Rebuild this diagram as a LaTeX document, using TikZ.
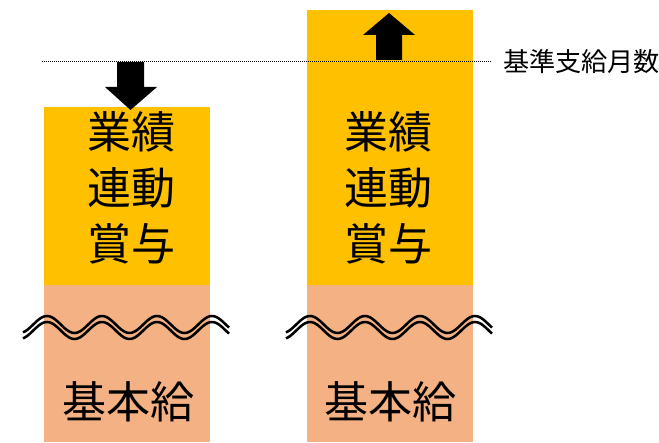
\documentclass[tikz,border=0pt]{standalone}
\usepackage{fontspec}
\newfontfamily\cjk{Noto Sans CJK JP}
\definecolor{gold}{HTML}{FFC000}
\definecolor{salmon}{HTML}{F4B183}
\tikzset{
  block/.style={draw=none, inner sep=0, outer sep=0, anchor=north west, minimum width=124.5pt},
  bonusbox/.style={block, fill=gold},
  basebox/.style={block, fill=salmon, minimum height=117.75pt},
  bigtext/.style={font=\cjk\fontsize{33}{42}\selectfont, align=center, inner sep=0},
  labeltext/.style={font=\cjk\fontsize{19.6}{19.6}\selectfont, inner sep=0, anchor=west},
  waveline/.style={line width=1.9pt, black},
  dotline/.style={line width=0.75pt, dash pattern=on 0.75pt off 0.75pt},
  arrowshape/.style={fill=black}
}
\begin{document}
\begin{tikzpicture}[x=0.75pt,y=-0.75pt]
\useasboundingbox (0,0) rectangle (659,442);
% boxes
\node[bonusbox, minimum height=133.5pt] (bonusL) at (44,107) {};
\node[basebox] (baseL) at (44,285) {};
\node[bonusbox, minimum height=206.25pt] (bonusR) at (307,10) {};
\node[basebox] (baseR) at (307,285) {};
% texts
\node[bigtext] (txtL) at (131,188) {業績\\連動\\賞与};
\node[bigtext] (txtR) at (388.5,188) {業績\\連動\\賞与};
\node[bigtext] (baseTxtL) at (128,402) {基本給};
\node[bigtext] (baseTxtR) at (390,402) {基本給};
% waves
\foreach \dx in {0,263}{
  \foreach \dy in {0,6}{
    \draw[waveline] plot[domain=23:229, samples=120, smooth] ({\x+\dx}, {324.5+\dy-8.5*cos(6.5455*(\x-47))});
  }
}
% reference line and label
\node[labeltext] (lbl) at (503,61.5) {基準支給月数};
\coordinate (dotStart) at (42,61.5);
\draw[dotline] (dotStart) -- ([xshift=-8.25pt]lbl.west);
% arrows
\fill[arrowshape] (117,62) -- (144,62) -- (144,87) -- (157,87) -- (130.5,110) -- (105,87) -- (117,87) -- cycle;
\fill[arrowshape] (376,60) -- (402,60) -- (402,35) -- (415,35) -- (389,13) -- (363,35) -- (376,35) -- cycle;
\end{tikzpicture}
\end{document}
